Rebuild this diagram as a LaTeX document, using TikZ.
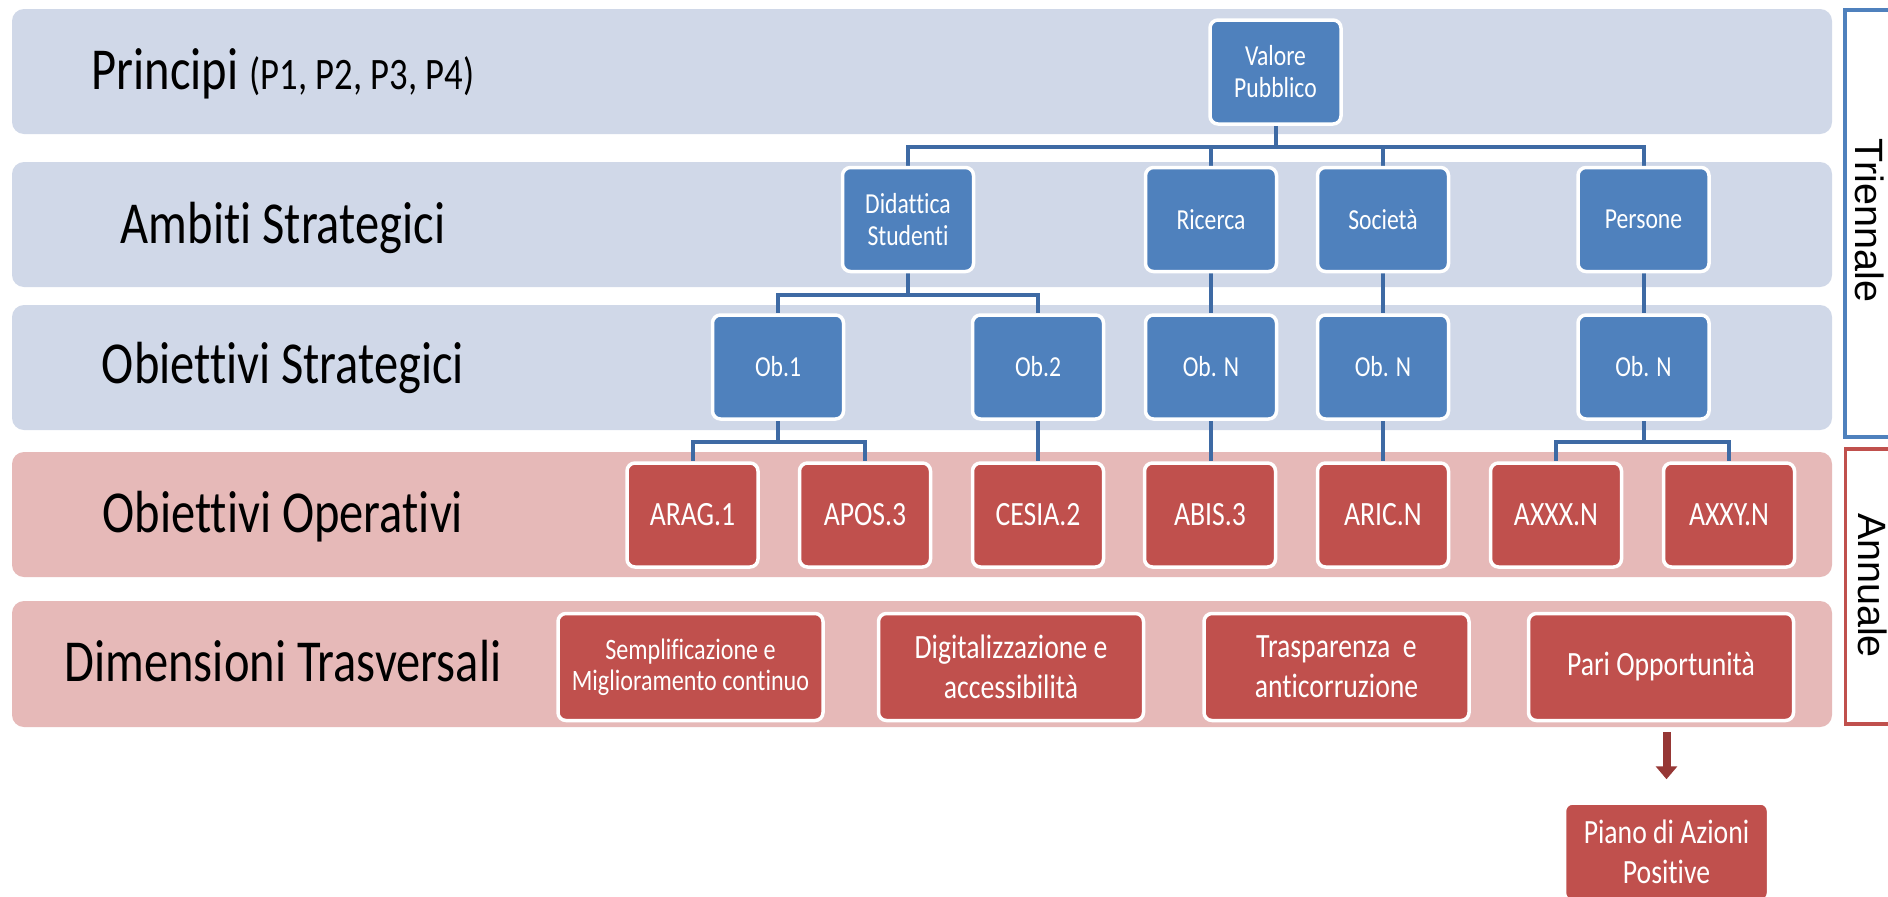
\documentclass[tikz,border=0pt]{standalone}
\usepackage{fontspec}
\setmainfont{Carlito}[FakeStretch=0.815, Ligatures=NoCommon]
\newfontfamily\sidefont{Liberation Sans}
\usetikzlibrary{arrows.meta}
\pgfdeclarelayer{bands}
\pgfdeclarelayer{lines}
\pgfsetlayers{bands,lines,main}
\definecolor{bandblue}{RGB}{208,216,232}
\definecolor{bandred}{RGB}{230,185,184}
\definecolor{boxblue}{RGB}{79,129,189}
\definecolor{boxred}{RGB}{192,80,77}
\definecolor{connblue}{RGB}{62,106,164}
\definecolor{arrowred}{RGB}{150,55,53}
\tikzset{
  bandshape/.style={rounded corners=12pt},
  bluebox/.style={draw=white, line width=3.5pt, fill=boxblue, rounded corners=8pt,
    minimum width=131pt, minimum height=104pt, text=white, align=center,
    inner sep=0pt, font=\fontsize{29}{32}\selectfont},
  redbox/.style={bluebox, fill=boxred, font=\fontsize{34}{40}\selectfont},
  dimbox/.style={redbox, minimum width=265pt, minimum height=107pt},
  conn/.style={draw=connblue, line width=4pt},
  lab/.style={anchor=base, inner sep=0pt, font=\fontsize{59.5}{62}\selectfont},
  side/.style={inner sep=0pt, rotate=-90, font=\sidefont\fontsize{39.5}{42}\selectfont},
  bracket/.style={line width=3.5pt},
  bigarrow/.style={draw=arrowred, line width=8pt, -{Triangle[width=21pt,length=13pt]}}
}
\begin{document}
\begin{tikzpicture}[x=1pt,y=-1pt]
\useasboundingbox (0,0) rectangle (1888,897);
\clip (0,0) rectangle (1888,897);

\begin{pgfonlayer}{bands}
\fill[white] (0,0) rectangle (1888,897);
\fill[bandblue, bandshape] (12,9) rectangle (1832,134);
\fill[bandblue, bandshape] (12,162) rectangle (1832,287);
\fill[bandblue, bandshape] (12,305) rectangle (1832,430);
\fill[bandred, bandshape] (12,452) rectangle (1832,577);
\fill[bandred, bandshape] (12,601) rectangle (1832,727);
\end{pgfonlayer}

% band labels
\node[lab] (lp) at (283,89) {Principi {\fontsize{45}{45}\selectfont(P1, P2, P3, P4)}};
\node[lab] (la) at (283,243) {Ambiti Strategici};
\node[lab] (lo) at (283,383) {Obiettivi Strategici};
\node[lab] (lop) at (283,532) {Obiettivi Operativi};
\node[lab] (ld) at (283,681) {Dimensioni Trasversali};

% level 1
\node[bluebox] (valore) at (1275.5,72) {Valore\\Pubblico};
% level 2
\node[bluebox] (did) at (908,219.5) {Didattica\\Studenti};
\node[bluebox] (ric) at (1211,219.5) {Ricerca};
\node[bluebox] (soc) at (1383,219.5) {Società};
\node[bluebox] (per) at (1643.5,219.5) {Persone};
% level 3
\node[bluebox] (ob1) at (778,367) {Ob.1};
\node[bluebox] (ob2) at (1038,367) {Ob.2};
\node[bluebox] (obr) at (1211,367) {Ob. N};
\node[bluebox] (obs) at (1383,367) {Ob. N};
\node[bluebox] (obp) at (1643.5,367) {Ob. N};
% level 4
\node[redbox] (arag) at (692.5,515) {ARAG.1};
\node[redbox] (apos) at (865,515) {APOS.3};
\node[redbox] (cesia) at (1038,515) {CESIA.2};
\node[redbox] (abis) at (1210,515) {ABIS.3};
\node[redbox] (aric) at (1383,515) {ARIC.N};
\node[redbox] (axxx) at (1556,515) {AXXX.N};
\node[redbox] (axxy) at (1729,515) {AXXY.N};
% level 5
\node[dimbox, font=\fontsize{29.6}{31}\selectfont] (semp) at (690.5,667) {Semplificazione e\\Miglioramento continuo};
\node[dimbox] (digi) at (1011,667) {Digitalizzazione e\\accessibilità};
\node[dimbox] (tras) at (1336.5,667) {Trasparenza~ e\\anticorruzione};
\node[dimbox] (pari) at (1661,667) {Pari Opportunità};
\node[redbox, minimum width=204pt, minimum height=98pt] (piano) at (1666.5,852) {Piano di Azioni\\Positive};

% connectors
\begin{pgfonlayer}{lines}
\draw[conn] (valore.south) -- ++(0,21) -| (did.north);
\draw[conn] (valore.south) -- ++(0,21) -| (ric.north);
\draw[conn] (valore.south) -- ++(0,21) -| (soc.north);
\draw[conn] (valore.south) -- ++(0,21) -| (per.north);
\draw[conn] (did.south) -- ++(0,21.5) -| (ob1.north);
\draw[conn] (did.south) -- ++(0,21.5) -| (ob2.north);
\draw[conn] (ric.south) -- (obr.north);
\draw[conn] (soc.south) -- (obs.north);
\draw[conn] (per.south) -- (obp.north);
\draw[conn] (ob1.south) -- ++(0,21) -| (arag.north);
\draw[conn] (ob1.south) -- ++(0,21) -| (apos.north);
\draw[conn] (ob2.south) -- (cesia.north);
\draw[conn] (obr.south) -- (obr.south |- abis.north);
\draw[conn] (obs.south) -- (aric.north);
\draw[conn] (obp.south) -- ++(0,21) -| (axxx.north);
\draw[conn] (obp.south) -- ++(0,21) -| (axxy.north);
\end{pgfonlayer}

% arrow to Piano
\draw[bigarrow, shorten <=10pt, shorten >=22pt] (pari.south -| piano.north) -- (piano.north);

% side brackets
\draw[bracket, draw=boxblue] (1900,10) -- (1845,10) -- (1845,437) -- (1900,437);
\draw[bracket, draw=boxred] (1900,449) -- (1845.5,449) -- (1845.5,724) -- (1900,724);
\node[side] (trien) at (1870,220.5) {Triennale};
\node[side] (annu) at (1872.5,585.5) {Annuale};
\end{tikzpicture}
\end{document}
